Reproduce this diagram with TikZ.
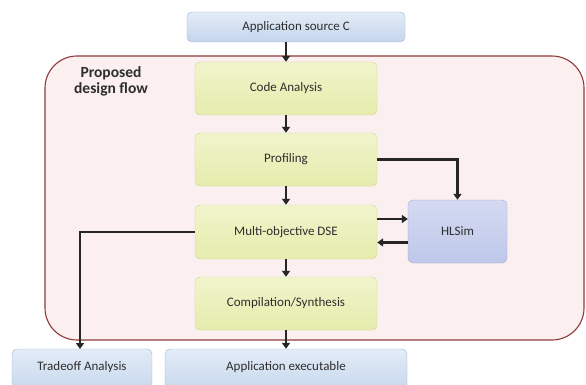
\documentclass[tikz,border=0pt]{standalone}
\usepackage{fontspec}
\setmainfont{Carlito}
\usetikzlibrary{arrows.meta}
\definecolor{bluefill}{HTML}{C4D5EC}
\definecolor{bluetop}{HTML}{E3ECF7}
\definecolor{blueedge}{HTML}{9DB5D6}
\definecolor{yelfill}{HTML}{E6ECAC}
\definecolor{yeltop}{HTML}{F1F4CC}
\definecolor{yeledge}{HTML}{CBD79C}
\definecolor{hlfill}{HTML}{BFC8EA}
\definecolor{hltop}{HTML}{D4DAF2}
\definecolor{hledge}{HTML}{9EAAD6}
\definecolor{regfill}{HTML}{FBEFEF}
\definecolor{regedge}{HTML}{8E3A3A}
\definecolor{txt}{HTML}{2E2E2E}
\tikzset{
  x=1pt, y=-1pt,
  lbl/.style={text=txt, font=\fontsize{13}{15}\selectfont},
  box/.style={rounded corners=5pt},
  bluebox/.style={box, draw=blueedge, top color=bluetop, bottom color=bluefill},
  yelbox/.style={box, draw=yeledge, top color=yeltop, bottom color=yelfill},
  hlbox/.style={box, draw=hledge, top color=hltop, bottom color=hlfill},
  flow/.style={draw=black!85, line width=2.2pt, -{Triangle[length=6pt,width=8pt]}},
}
\begin{document}
\begin{tikzpicture}
\useasboundingbox (0,0) rectangle (586,385);
\clip (0,0) rectangle (586,385);
\fill[white] (0,0) rectangle (586,385);
% region
\draw[regedge, fill=regfill, line width=1.1pt, rounded corners=32pt] (45,56) rectangle (584,340);
\node[font=\bfseries\fontsize{15.5}{16}\selectfont, text=txt, align=center] (title) at (111,81) {Proposed\\design flow};
% nodes
\path[bluebox] (187,12) rectangle (405,42);
\node[lbl, minimum width=218pt, minimum height=30pt] (src) at (296,27) {Application source C};
\path[yelbox] (195,62) rectangle (377,115);
\node[lbl, minimum width=182pt, minimum height=53pt] (code) at (286,88.5) {Code Analysis};
\path[yelbox] (195,133) rectangle (377,186);
\node[lbl, minimum width=182pt, minimum height=53pt] (prof) at (286,159.5) {Profiling};
\path[yelbox] (195,205) rectangle (377,259);
\node[lbl, minimum width=182pt, minimum height=54pt] (dse) at (286,232) {Multi-objective DSE};
\path[yelbox] (195,277) rectangle (377,330);
\node[lbl, minimum width=182pt, minimum height=53pt] (comp) at (286,303.5) {Compilation/Synthesis};
\path[hlbox] (408,200) rectangle (507,263);
\node[lbl, minimum width=99pt, minimum height=63pt] (hl) at (457.5,231.5) {HLSim};
\path[bluebox] (12,349) rectangle (152,395);
\node[lbl, minimum width=140pt, minimum height=36pt] (trade) at (82,367) {Tradeoff Analysis};
\path[bluebox] (165,349) rectangle (407,395);
\node[lbl, minimum width=242pt, minimum height=36pt] (exe) at (286,367) {Application executable};
% connectors
\draw[flow] (src.south -| code.north) -- (code.north);
\draw[flow] (code) -- (prof);
\draw[flow] (prof) -- (dse);
\draw[flow] (dse) -- (comp);
\draw[flow] (comp.south) -- (exe.north -| comp.south);
\draw[flow] (prof.east) -- (prof.east -| hl.north) -- (hl.north);
\draw[flow] ([yshift=13pt]dse.east) -- ([yshift=13pt]dse.east -| hl.west);
\draw[flow] ([yshift=-11pt]hl.west) -- ([yshift=-11pt]hl.west -| dse.east);
\draw[flow] (dse.west) -- (dse.west -| 80,0) -- (80,349);
\end{tikzpicture}
\end{document}
